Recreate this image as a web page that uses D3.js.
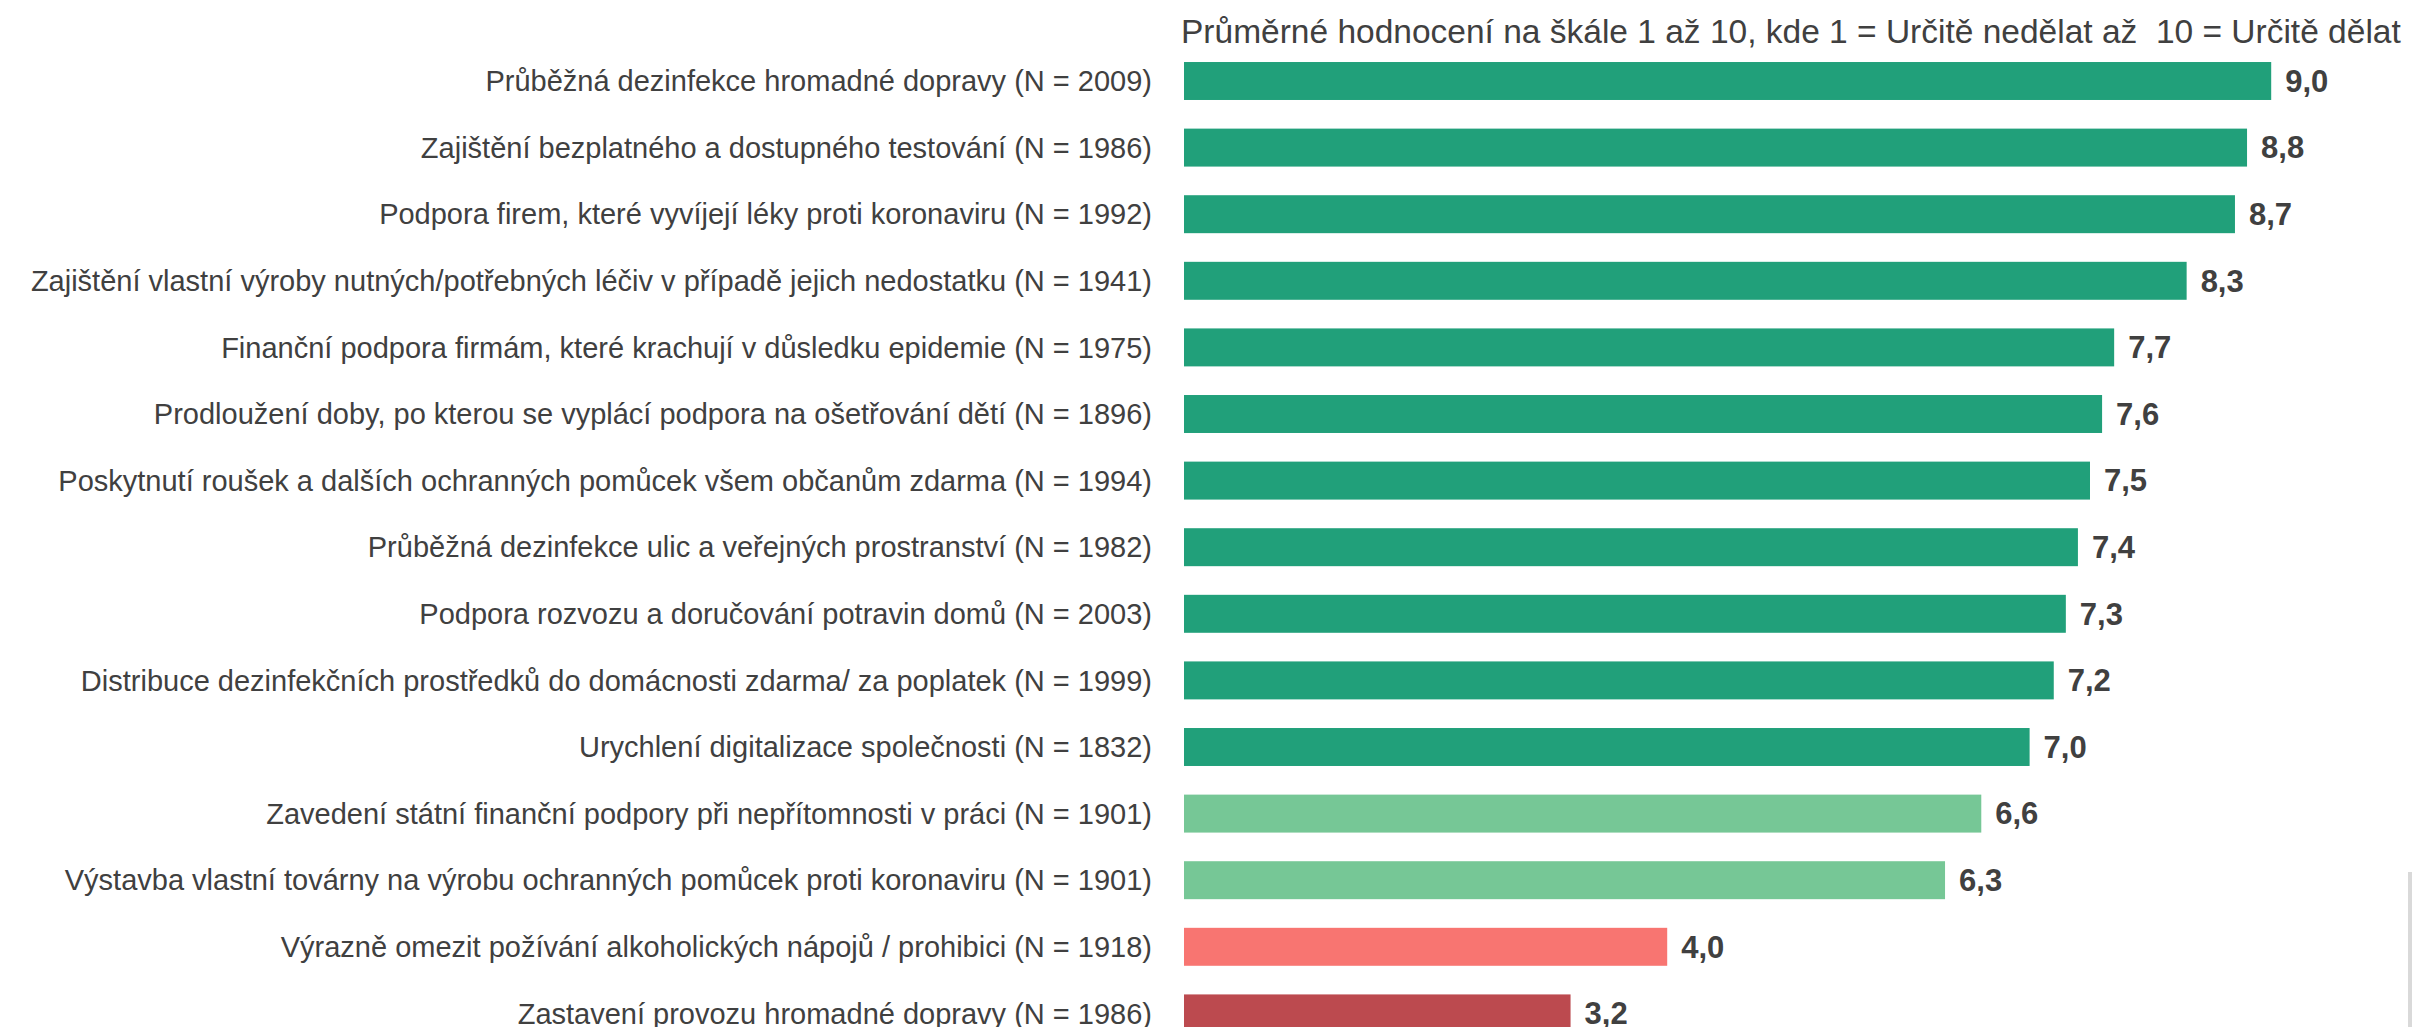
<!DOCTYPE html>
<html>
<head>
<meta charset="utf-8">
<script src="https://cdn.jsdelivr.net/npm/d3@7"></script>
<style>
  body { margin: 0; background: #fff; overflow: hidden; }
  text { font-family: "Liberation Sans", Arial, sans-serif; }
</style>
</head>
<body>
<div id="chart"></div>
<script>
var W = 2412, H = 1027;

var title = "Průměrné hodnocení na škále 1 až 10, kde 1 = Určitě nedělat až  10 = Určitě dělat";

var categories = [
  "Průběžná dezinfekce hromadné dopravy (N = 2009)",
  "Zajištění bezplatného a dostupného testování (N = 1986)",
  "Podpora firem, které vyvíjejí léky proti koronaviru (N = 1992)",
  "Zajištění vlastní výroby nutných/potřebných léčiv v případě jejich nedostatku (N = 1941)",
  "Finanční podpora firmám, které krachují v důsledku epidemie (N = 1975)",
  "Prodloužení doby, po kterou se vyplácí podpora na ošetřování dětí (N = 1896)",
  "Poskytnutí roušek a dalších ochranných pomůcek všem občanům zdarma (N = 1994)",
  "Průběžná dezinfekce ulic a veřejných prostranství (N = 1982)",
  "Podpora rozvozu a doručování potravin domů (N = 2003)",
  "Distribuce dezinfekčních prostředků do domácnosti zdarma/ za poplatek (N = 1999)",
  "Urychlení digitalizace společnosti (N = 1832)",
  "Zavedení státní finanční podpory při nepřítomnosti v práci (N = 1901)",
  "Výstavba vlastní továrny na výrobu ochranných pomůcek proti koronaviru (N = 1901)",
  "Výrazně omezit požívání alkoholických nápojů / prohibici (N = 1918)",
  "Zastavení provozu hromadné dopravy (N = 1986)"
];

var values = [9.0, 8.8, 8.7, 8.3, 7.7, 7.6, 7.5, 7.4, 7.3, 7.2, 7.0, 6.6, 6.3, 4.0, 3.2];

// skupina podle barvy
var groups = ["a","a","a","a","a","a","a","a","a","a","a","b","b","c","d"];

var colorOf = { a: "#21a07a", b: "#76c796", c: "#f87571", d: "#bc4a4f" };

var svg = d3.select("#chart").append("svg")
    .attr("width", W).attr("height", H);

var x = d3.scaleLinear().domain([0, 10]).range([1184, 2392]);

var y = d3.scaleBand()
    .domain(categories)
    .range([47.7, 1046.7])
    .paddingInner(0.43)
    .paddingOuter(0.215);

svg.append("text")
    .attr("x", 1181).attr("y", 31)
    .attr("dy", "0.35em")
    .attr("font-size", 33.5)
    .attr("fill", "#404040")
    .style("white-space", "pre")
    .text(title);

var rows = svg.selectAll(".row")
    .data(categories)
    .enter().append("g")
    .attr("class", "row");

rows.append("rect")
    .attr("x", x(0))
    .attr("y", function(d) { return y(d); })
    .attr("width", function(d, i) { return x(values[i]) - x(0); })
    .attr("height", y.bandwidth())
    .attr("fill", function(d, i) { return colorOf[groups[i]]; });

rows.append("text")
    .attr("x", x(0) - 32)
    .attr("y", function(d) { return y(d) + y.bandwidth() / 2; })
    .attr("dy", "0.35em")
    .attr("text-anchor", "end")
    .attr("font-size", 29)
    .attr("fill", "#404040")
    .text(function(d) { return d; });

rows.append("text")
    .attr("x", function(d, i) { return x(values[i]) + 14; })
    .attr("y", function(d) { return y(d) + y.bandwidth() / 2; })
    .attr("dy", "0.35em")
    .attr("font-size", 31)
    .attr("font-weight", "bold")
    .attr("fill", "#404040")
    .text(function(d, i) { return d3.format(".1f")(values[i]).replace(".", ","); });

// šedý pruh vpravo dole
svg.append("rect")
    .attr("x", 2408).attr("y", 872)
    .attr("width", 4).attr("height", H - 872)
    .attr("fill", "#d9d9d9");
</script>
</body>
</html>
